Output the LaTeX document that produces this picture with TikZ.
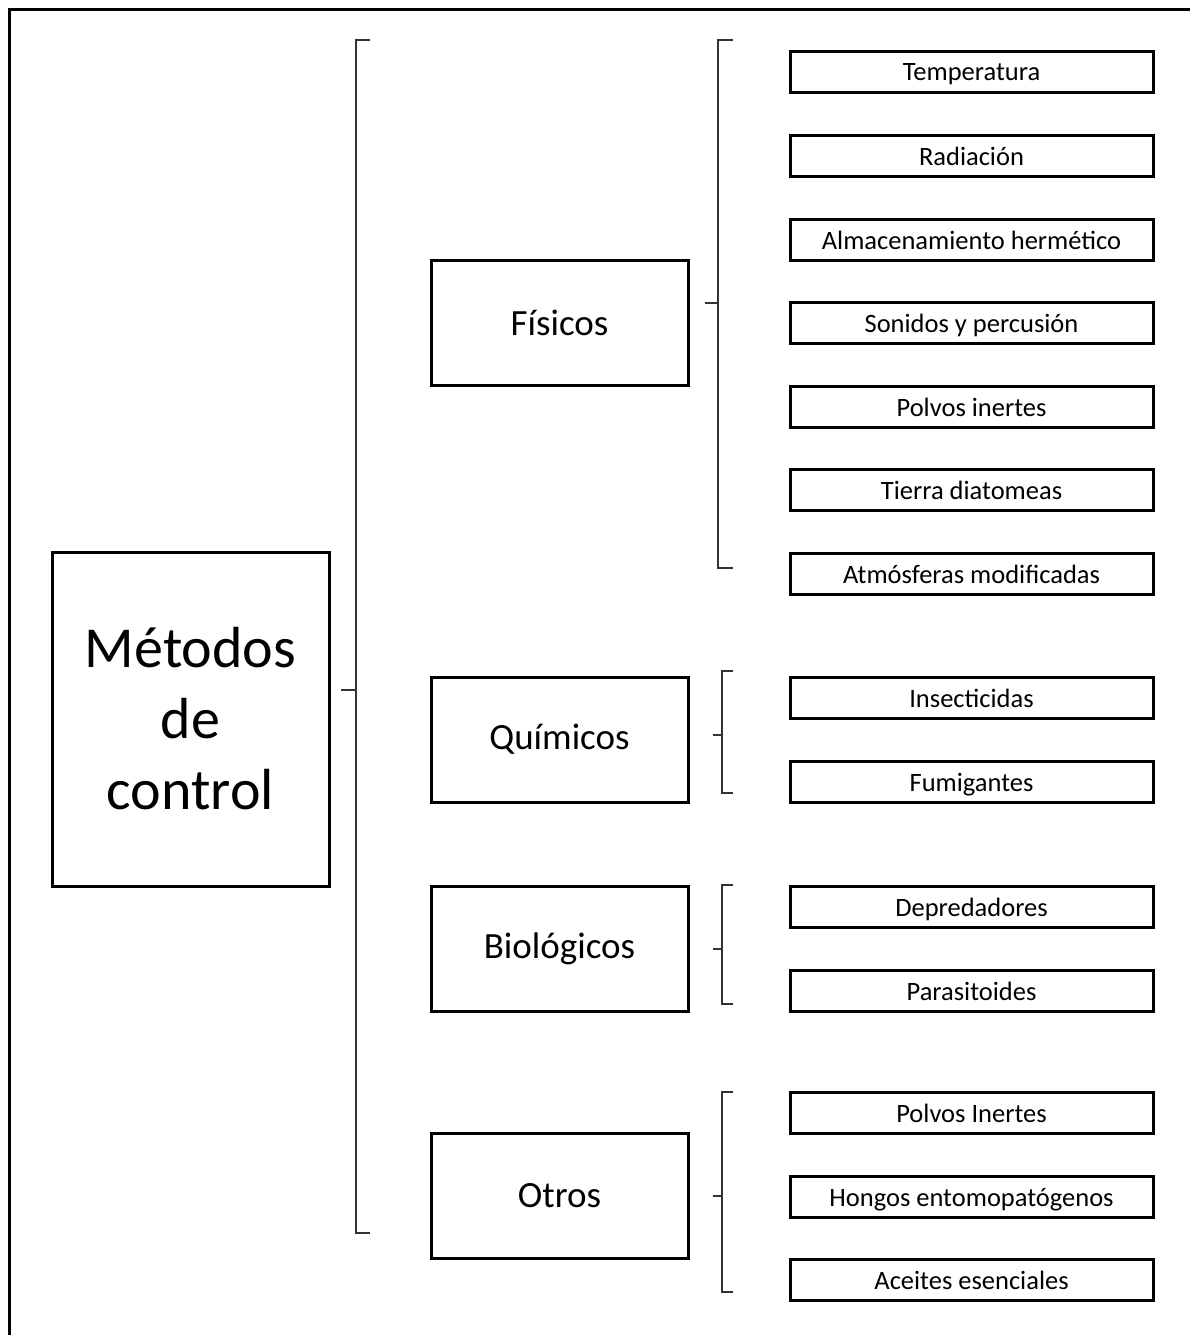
\documentclass[tikz,border=0pt]{standalone}
\usepackage{fontspec}
\setmainfont{Carlito}
\usetikzlibrary{positioning}
\tikzset{x=1pt,y=-1pt,
    every node/.style={
        draw,
        line width=3pt,
        inner sep=0pt},
    mainbox/.style={
        align=center,
        minimum width=277pt,
        minimum height=334pt,
        font=\fontsize{58}{71}\selectfont},
    groupbox/.style={
        minimum width=257pt,
        minimum height=125pt,
        font=\fontsize{37}{44}\selectfont},
    leafbox/.style={
        minimum width=363pt,
        minimum height=41pt,
        text height=22pt,
        text depth=4pt,
        font=\fontsize{26.5}{30}\selectfont},
    brack/.style={
        draw=black!80,
        line width=2pt}}

\begin{document}
\begin{tikzpicture}
        \useasboundingbox (0,0) rectangle (1189,1335);
        % outer frame
        \draw[line width=3pt] (9.5,1340) -- (9.5,9.5) -- (1195,9.5);

        \node[mainbox] (met) at (190.5,719) {Métodos\\de\\control};

        \node[groupbox] (fis) at (559.5,322.5) {Físicos};
        \node[groupbox] (qui) at (559.5,739.5) {Químicos};
        \node[groupbox] (bio) at (559.5,948.5) {Biológicos};
        \node[groupbox] (otr) at (559.5,1196) {Otros};

        \node[leafbox] (f1) at (971.5,72) {Temperatura};
        \node[leafbox] (f2) at (971.5,156) {Radiación};
        \node[leafbox] (f3) at (971.5,240) {Almacenamiento hermético};
        \node[leafbox] (f4) at (971.5,323) {Sonidos y percusión};
        \node[leafbox] (f5) at (971.5,407) {Polvos inertes};
        \node[leafbox] (f6) at (971.5,490) {Tierra diatomeas};
        \node[leafbox] (f7) at (971.5,574) {Atmósferas modificadas};

        \node[leafbox] (q1) at (971.5,698) {Insecticidas};
        \node[leafbox] (q2) at (971.5,782) {Fumigantes};

        \node[leafbox] (b1) at (971.5,907) {Depredadores};
        \node[leafbox] (b2) at (971.5,991) {Parasitoides};

        \node[leafbox] (o1) at (971.5,1113) {Polvos Inertes};
        \node[leafbox] (o2) at (971.5,1197) {Hongos entomopatógenos};
        \node[leafbox] (o3) at (971.5,1280) {Aceites esenciales};

        % brackets
        \coordinate (mb) at (356,690);
        \draw[brack] ([xshift=10.5pt]met.east |- mb) -- (mb);
        \draw[brack] (370,40) -- (356,40) -- (356,1233) -- (370,1233);

        \coordinate (fb) at (718,303);
        \draw[brack] ([xshift=15pt]fis.east |- fb) -- (fb);
        \draw[brack] (733,40) -- (718,40) -- (718,568) -- (733,568);

        \coordinate (qb) at (722,735);
        \draw[brack] ([xshift=23pt]qui.east |- qb) -- (qb);
        \draw[brack] (733,671) -- (722,671) -- (722,793) -- (733,793);

        \coordinate (bb) at (722,949);
        \draw[brack] ([xshift=23pt]bio.east |- bb) -- (bb);
        \draw[brack] (733,885) -- (722,885) -- (722,1004) -- (733,1004);

        \coordinate (ob) at (722,1196);
        \draw[brack] ([xshift=23pt]otr.east |- ob) -- (ob);
        \draw[brack] (733,1092) -- (722,1092) -- (722,1292) -- (733,1292);

    \end{tikzpicture}
\end{document}
